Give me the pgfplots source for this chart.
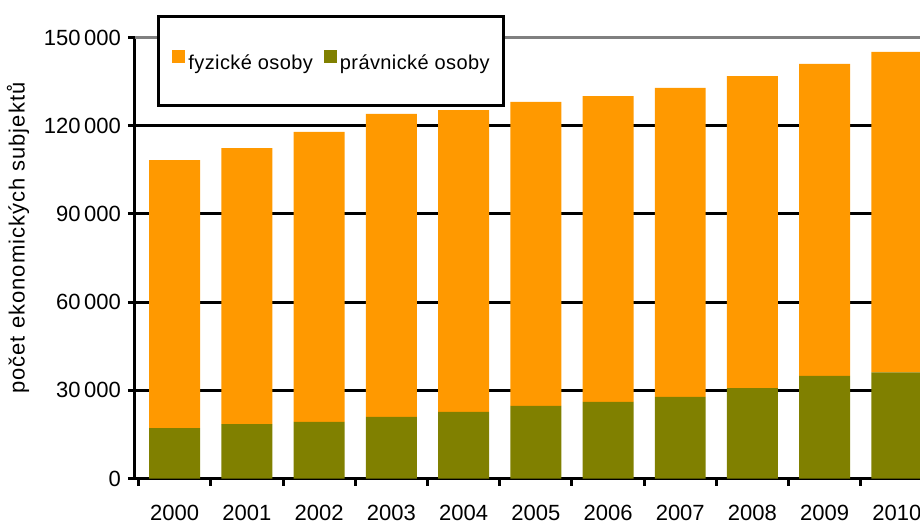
\documentclass[border=0pt]{standalone}
\usepackage{fontspec}
\setmainfont{Liberation Sans}
\usepackage{pgfplots}
\usepackage{pgfplotstable}
\pgfplotsset{compat=1.18}
\usetikzlibrary{calc}

\definecolor{fyz}{HTML}{FF9900}
\definecolor{prav}{HTML}{808000}

% values (number of economic subjects)
\pgfplotstableread{
x rok  pravnicke fyzicke
0 2000 17100 91200
1 2001 18500 93900
2 2002 19300 98600
3 2003 21000 103000
4 2004 22700 102600
5 2005 24700 103400
6 2006 26100 104000
7 2007 27800 105100
8 2008 30700 106200
9 2009 34900 106100
10 2010 36100 109000
}\data

\begin{document}
\begin{tikzpicture}
\begin{axis}[
    name=ax,
    scale only axis,
    width=392.5pt, height=220.5pt,
    ybar stacked,
    bar width=0.706,
    xmin=-0.55, xmax=10.32,
    ymin=0, ymax=150000,
    ytick={0,30000,60000,90000,120000},
    extra y ticks={150000},
    extra y tick style={major grid style={color=gray, line width=1.5pt}},
    scaled y ticks=false,
    yticklabel style={/pgf/number format/.cd, fixed, 1000 sep={\,}, assume math mode=true},
    ymajorgrids,
    major grid style={black, line width=1.5pt},
    axis lines*=left,
    axis line style={black, line width=1.5pt},
    tick align=outside,
    major tick length=3.5pt,
    tick style={black, line width=1.5pt},
    xtick={-0.5,0.5,...,9.5},
    xticklabels={},
    extra x ticks={0,1,...,10},
    extra x tick labels={2000,2001,2002,2003,2004,2005,2006,2007,2008,2009,2010},
    extra x tick style={major tick length=0pt},
    ticklabel style={font=\fontsize{11}{13}\selectfont},
    xticklabel style={yshift=-10pt},
    ylabel={počet ekonomických subjektů},
    ylabel style={at={(rel axis cs:-0.149,0.545)}, anchor=center,
        font=\fontsize{11}{13}\selectfont\addfontfeature{LetterSpace=4.5}},
    reverse legend,
    legend columns=2,
    legend style={
        at={(rel axis cs:0,1)}, anchor=north west,
        xshift=11pt, yshift=11.25pt,
        draw=black, line width=1.5pt,
        inner xsep=7pt, inner ysep=16.5pt,
        font=\fontsize{10}{12}\selectfont\addfontfeature{LetterSpace=2},
        nodes={inner sep=0pt},
        /tikz/every odd column/.append style={column sep=1.5pt},
        /tikz/every even column/.append style={column sep=5.5pt},
    },
    legend image code/.code={\fill[#1] (0pt,0.8pt) rectangle (6.5pt,7.3pt);},
]
\addplot[fill=prav, draw=none] table[x=x, y=pravnicke] {\data};
\addlegendentry{právnické osoby}
\addplot[fill=fyz, draw=none] table[x=x, y=fyzicke] {\data};
\addlegendentry{fyzické osoby}
\end{axis}
\pgfresetboundingbox
\path ($(ax.south west)+(-67.5pt,-23.25pt)$) rectangle ($(ax.north east)+(0pt,18.75pt)$);
\end{tikzpicture}
\end{document}
